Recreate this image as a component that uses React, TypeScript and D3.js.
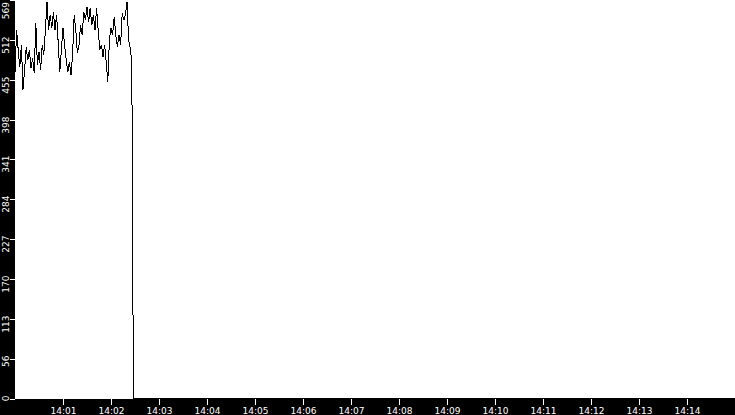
import React, { useEffect, useRef } from 'react';
import * as d3 from 'd3';

// samples every 2 seconds starting 14:00:00
const startTime = new Date(2024, 0, 1, 14, 0, 0);
const endTime = new Date(2024, 0, 1, 14, 15, 0);
const sampleStep = 2; // seconds
const values = [
  465, 526, 498, 473, 505, 441, 469, 502, 483, 498,
  472, 486, 465, 536, 476, 495, 469, 505, 491, 526,
  566, 526, 548, 529, 552, 526, 548, 508, 466, 498,
  529, 505, 483, 466, 481, 462, 491, 548, 526, 493,
  505, 533, 519, 552, 540, 559, 537, 558, 533, 548,
  526, 558, 526, 498, 505, 488, 505, 481, 452, 512,
  529, 519, 545, 519, 502, 519, 505, 550, 540, 548,
  566, 512, 500, 481,
];
// drop off after the last sample
const tailTimes = [147, 148, 900];
const tailValues = [243, 0, 0];

const yMax = 569;
const yTickCount = 10;

const W = 735;
const H = 415;
const left = 15;
const plotBottom = 399;

export default function App() {
  const svgRef = useRef<SVGSVGElement>(null);

  useEffect(() => {
    if (!svgRef.current) return;
    const svg = d3.select(svgRef.current);
    svg.selectAll('*').remove();

    const x = d3.scaleTime().domain([startTime, endTime]).range([left, W]);
    const y = d3.scaleLinear().domain([0, yMax]).range([plotBottom - 0.5, 0]);

    const pts: { t: Date; v: number }[] = values.map((v, i) => ({
      t: new Date(startTime.getTime() + i * sampleStep * 1000),
      v,
    }));
    tailTimes.forEach((s, i) => {
      pts.push({ t: new Date(startTime.getTime() + s * 1000), v: tailValues[i] });
    });

    svg.append('rect').attr('width', W).attr('height', H).attr('fill', '#000');
    svg.append('rect')
      .attr('x', left).attr('y', 0)
      .attr('width', W - left).attr('height', plotBottom)
      .attr('fill', '#fff');

    const line = d3.line<{ t: Date; v: number }>()
      .x(d => x(d.t))
      .y(d => y(d.v));

    svg.append('path')
      .datum(pts)
      .attr('d', line)
      .attr('fill', 'none')
      .attr('stroke', '#000')
      .attr('stroke-width', 1)
      .attr('shape-rendering', 'crispEdges');

    // y axis
    const yTicks = d3.range(yTickCount + 1).map(k => (k * yMax) / yTickCount);
    const yg = svg.append('g');
    yTicks.forEach(v => {
      const py = Math.round(y(v)) + 0.5;
      yg.append('line')
        .attr('x1', 10).attr('x2', left)
        .attr('y1', py).attr('y2', py)
        .attr('stroke', '#fff');
      const ly = Math.max(py - 4, 2);
      yg.append('text')
        .attr('transform', `translate(9,${ly}) rotate(-90)`)
        .attr('text-anchor', 'end')
        .attr('fill', '#fff')
        .attr('font-family', 'DejaVu Sans')
        .attr('font-size', 9)
        .text(Math.floor(v));
    });

    // x axis
    const xTicks = x.ticks(d3.timeMinute.every(1)!)
      .filter(t => t > startTime && t < endTime);
    const fmt = d3.timeFormat('%H:%M');
    const xg = svg.append('g');
    xTicks.forEach(t => {
      const px = Math.round(x(t)) + 0.5;
      xg.append('line')
        .attr('x1', px).attr('x2', px)
        .attr('y1', plotBottom).attr('y2', plotBottom + 6)
        .attr('stroke', '#fff');
      xg.append('text')
        .attr('x', px).attr('y', 414)
        .attr('text-anchor', 'middle')
        .attr('fill', '#fff')
        .attr('font-family', 'DejaVu Sans')
        .attr('font-size', 9)
        .text(fmt(t));
    });
  }, []);

  return (
    <svg
      ref={svgRef}
      width={W}
      height={H}
      style={{ position: 'fixed', left: 0, top: 0, display: 'block' }}
    />
  );
}
